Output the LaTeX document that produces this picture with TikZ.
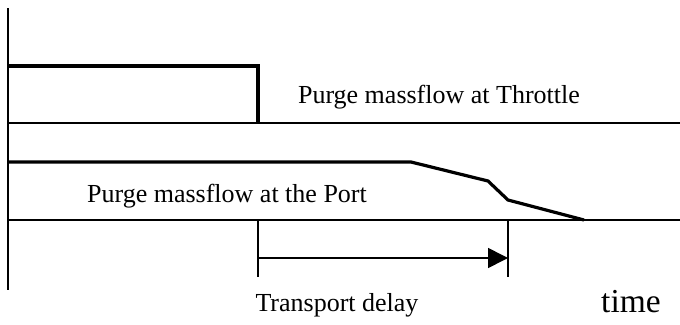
\documentclass[tikz,border=0pt]{standalone}
\usepackage{fontspec}
\setmainfont{Liberation Serif}
\usetikzlibrary{arrows.meta}
\begin{document}
\begin{tikzpicture}[x=1pt,y=-1pt,
  thin line/.style={line width=1.6pt},
  thick trace/.style={line width=3.2pt},
  lbl/.style={inner sep=0pt,font=\fontsize{26}{30}\selectfont},
]
\useasboundingbox (0,0) rectangle (680,324);
% coordinates
\coordinate (axT) at (8,8);
\coordinate (axB) at (8,290);
\coordinate (b1L) at (8,123);
\coordinate (b1R) at (680,123);
\coordinate (b2L) at (8,220);
\coordinate (b2R) at (680,220);
\coordinate (t1a) at (8,66);
\coordinate (t1b) at (258,66);
\coordinate (t1c) at (258,123);
\coordinate (t2a) at (8,162);
\coordinate (t2b) at (411,162);
\coordinate (t2c) at (488,181);
\coordinate (t2d) at (508,200);
\coordinate (t2e) at (584,220);
\coordinate (d1a) at (258,220);
\coordinate (d1b) at (258,277);
\coordinate (d2a) at (508,220);
\coordinate (d2b) at (508,277);
\coordinate (arA) at (258,258);
\coordinate (arB) at (508,258);
% axes
\draw[thin line] (axT) -- (axB);
\draw[thin line] (b1L) -- (b1R);
\draw[thin line] (b2L) -- (b2R);
% traces
\draw[thick trace] (t1a) -- (t1b) -- (t1c);
\draw[thick trace] (t2a) -- (t2b) -- (t2c) -- (t2d) -- (t2e);
% delay
\draw[thin line] (d1a) -- (d1b);
\draw[thin line] (d2a) -- (d2b);
\draw[thin line,-{Triangle[length=20pt,width=20pt]}] (arA) -- (arB);
% labels
\node[lbl] (l1) at (439,97) {Purge massflow at Throttle};
\node[lbl] (l2) at (227,196) {Purge massflow at the Port};
\node[lbl] (l3) at (337,305) {Transport delay};
\node[inner sep=0pt,font=\fontsize{33.5}{38}\selectfont] (l4) at (631,302) {time};
\end{tikzpicture}
\end{document}
